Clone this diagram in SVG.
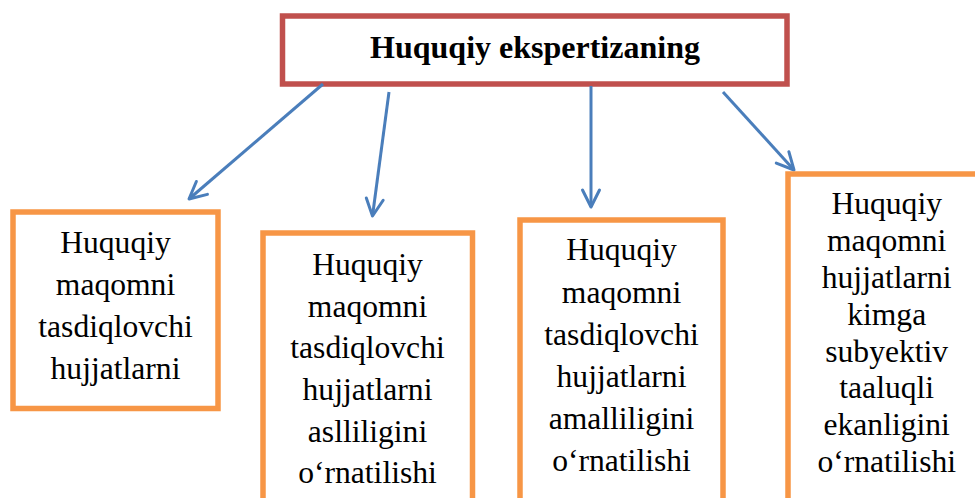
<svg xmlns="http://www.w3.org/2000/svg" width="975" height="498" viewBox="0 0 975 498">
<defs>
<marker id="ah" markerUnits="userSpaceOnUse" markerWidth="40" markerHeight="40" viewBox="-20 -20 40 40" refX="0" refY="0" orient="auto">
<path d="M-17,-8.5 L0,0 L-17,8.5" fill="none" stroke="#4A7EBB" stroke-width="3" stroke-linecap="round" stroke-linejoin="round"/>
</marker>
</defs>
<style>
.top{fill:#fff;stroke:#C0504D;stroke-width:5.5}
.box{fill:#fff;stroke:#F79646;stroke-width:5.5}
.t{font-family:"Liberation Serif","Times New Roman",serif;font-size:31.6px;fill:#000;text-anchor:middle}
.tt{font-family:"Liberation Serif","Times New Roman",serif;font-size:32px;font-weight:bold;fill:#000;text-anchor:middle}
.c{stroke:#4A7EBB;stroke-width:3;fill:none;marker-end:url(#ah)}
</style>
<rect width="975" height="498" fill="#fff"/>
<g id="title">
<rect class="top" x="282.5" y="16" width="504.5" height="68"/>
<text class="tt" x="535" y="58">Huquqiy ekspertizaning</text>
</g>
<g id="connectors">
<line class="c" x1="323" y1="84" x2="189" y2="199"/>
<line class="c" x1="389" y1="92" x2="372.5" y2="216"/>
<line class="c" x1="591" y1="86" x2="591" y2="207"/>
<line class="c" x1="723" y1="92" x2="794" y2="170"/>
</g>
<g id="node1">
<rect class="box" x="13" y="212" width="205" height="196.5"/>
<text class="t" x="115.5" y="253">Huquqiy</text>
<text class="t" x="115.5" y="295">maqomni</text>
<text class="t" x="115.5" y="337">tasdiqlovchi</text>
<text class="t" x="115.5" y="378.5">hujjatlarni</text>
</g>
<g id="node2">
<rect class="box" x="263" y="233" width="209.5" height="290"/>
<text class="t" x="367.5" y="275">Huquqiy</text>
<text class="t" x="367.5" y="316.7">maqomni</text>
<text class="t" x="367.5" y="358.3">tasdiqlovchi</text>
<text class="t" x="367.5" y="400">hujjatlarni</text>
<text class="t" x="367.5" y="441.7">aslliligini</text>
<text class="t" x="367.5" y="483.3">o‘rnatilishi</text>
</g>
<g id="node3">
<rect class="box" x="520" y="220" width="203" height="300"/>
<text class="t" x="621.5" y="260">Huquqiy</text>
<text class="t" x="621.5" y="302.5">maqomni</text>
<text class="t" x="621.5" y="344.5">tasdiqlovchi</text>
<text class="t" x="621.5" y="386.5">hujjatlarni</text>
<text class="t" x="621.5" y="428.5">amalliligini</text>
<text class="t" x="621.5" y="471">o‘rnatilishi</text>
</g>
<g id="node4">
<rect class="box" x="788" y="174" width="210" height="350"/>
<text class="t" x="886.7" y="213.5">Huquqiy</text>
<text class="t" x="886.7" y="250.5">maqomni</text>
<text class="t" x="886.7" y="287.5">hujjatlarni</text>
<text class="t" x="886.7" y="324.5">kimga</text>
<text class="t" x="886.7" y="361.5">subyektiv</text>
<text class="t" x="886.7" y="398">taaluqli</text>
<text class="t" x="886.7" y="435">ekanligini</text>
<text class="t" x="886.7" y="472">o‘rnatilishi</text>
</g>
</svg>
